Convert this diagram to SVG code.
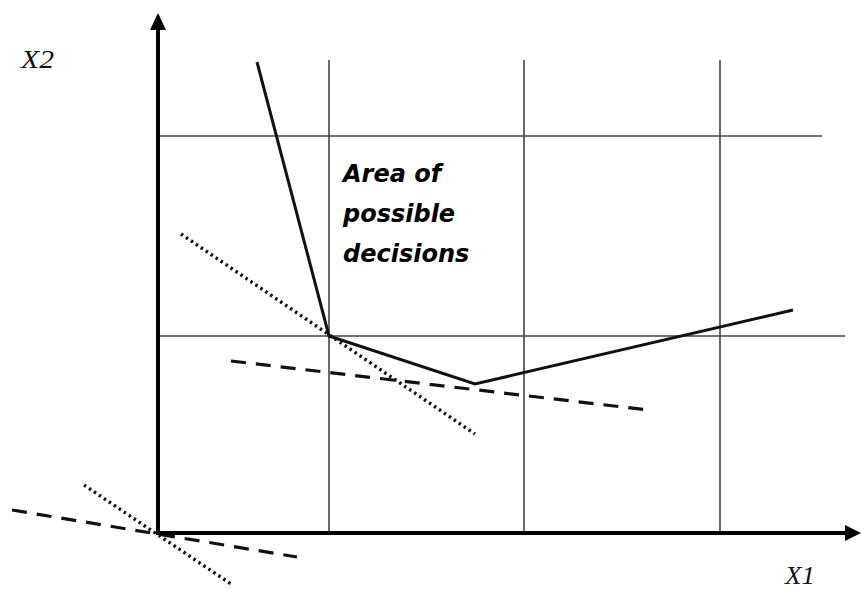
<svg xmlns="http://www.w3.org/2000/svg" width="861" height="591" viewBox="0 0 861 591">
<style>
.grid{stroke:#444;stroke-width:1.6;fill:none}
.axis{stroke:#000;stroke-width:4;fill:none}
.solid{stroke:#111;stroke-width:3;fill:none;stroke-linejoin:miter}
.dash{stroke:#111;stroke-width:3.2;fill:none;stroke-dasharray:15 10}
.dot{stroke:#111;stroke-width:3.4;fill:none;stroke-dasharray:2.5 3.5}
.lab{font-family:"Liberation Serif",serif;font-style:italic;font-size:26px;fill:#111}
.area{font-family:"DejaVu Sans",sans-serif;font-style:oblique;font-weight:bold;font-size:24px;fill:#000}
</style>
<rect width="861" height="591" fill="#fff"/>
<g id="grid">
<line class="grid" x1="329" y1="60" x2="329" y2="533"/>
<line class="grid" x1="524" y1="60" x2="524" y2="533"/>
<line class="grid" x1="720" y1="60" x2="720" y2="533"/>
<line class="grid" x1="160" y1="136" x2="822" y2="136"/>
<line class="grid" x1="160" y1="336" x2="845" y2="336"/>
</g>
<g id="connectors">
<polyline class="solid" points="257,62 329,336 475,384 793,310"/>
<line class="dot" x1="181" y1="234" x2="475" y2="434"/>
<line class="dash" x1="231" y1="361" x2="648" y2="410"/>
<line class="dash" x1="12" y1="510" x2="297" y2="557"/>
<line class="dot" x1="84" y1="485" x2="231" y2="584"/>
</g>
<g id="axes">
<line class="axis" x1="158" y1="535" x2="158" y2="26"/>
<polygon points="158,13 150,30 166,30" fill="#000"/>
<line class="axis" x1="156" y1="533" x2="848" y2="533"/>
<polygon points="861,533 845,525 845,541" fill="#000"/>
</g>
<g id="labels">
<text class="lab" x="21" y="68" textLength="33" lengthAdjust="spacingAndGlyphs">X2</text>
<text class="lab" x="785" y="584" textLength="30" lengthAdjust="spacingAndGlyphs">X1</text>
<text class="area" x="343" y="182">Area of</text>
<text class="area" x="343" y="222">possible</text>
<text class="area" x="343" y="262">decisions</text>
</g>
</svg>
